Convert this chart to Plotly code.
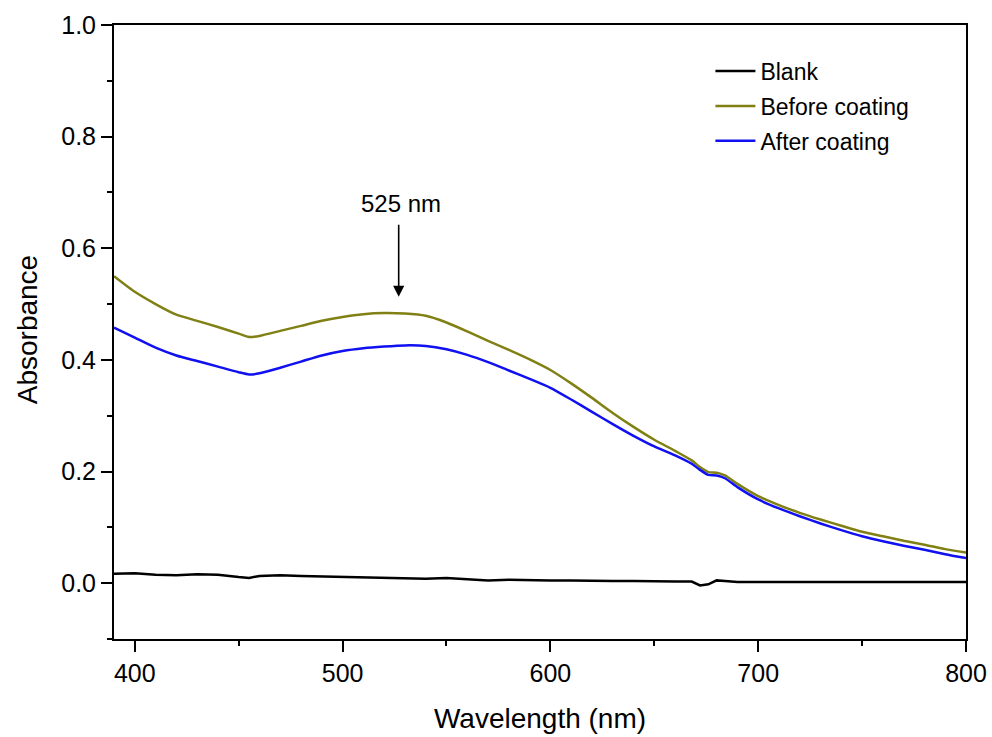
import plotly.graph_objects as go

wavelength = [390, 400, 410, 420, 430, 440, 450, 455, 460, 470, 480, 490, 500, 510, 520, 530,
              540, 550, 560, 570, 580, 590, 600, 610, 620, 630, 640, 650, 660, 668, 672, 676,
              680, 684, 690, 700, 710, 720, 730, 740, 750, 760, 770, 780, 790, 800]

blank = [0.017, 0.018, 0.015, 0.014, 0.016, 0.015, 0.011, 0.0095, 0.013, 0.014, 0.013, 0.012,
         0.012, 0.011, 0.009, 0.008, 0.008, 0.0095, 0.007, 0.005, 0.006, 0.005, 0.005, 0.005,
         0.004, 0.004, 0.004, 0.003, 0.003, 0.003, -0.004, -0.002, 0.005, 0.004, 0.002, 0.002,
         0.002, 0.002, 0.002, 0.002, 0.002, 0.002, 0.002, 0.002, 0.002, 0.002]

before_coating = [0.550, 0.522, 0.500, 0.481, 0.470, 0.459, 0.447, 0.441, 0.443, 0.452, 0.461,
                  0.470, 0.477, 0.482, 0.484, 0.483, 0.479, 0.467, 0.451, 0.434, 0.418, 0.401,
                  0.382, 0.358, 0.332, 0.305, 0.280, 0.257, 0.237, 0.220, 0.208, 0.199, 0.198,
                  0.193, 0.178, 0.156, 0.140, 0.126, 0.114, 0.103, 0.092, 0.084, 0.076, 0.069,
                  0.061, 0.055]

after_coating = [0.458, 0.440, 0.422, 0.408, 0.398, 0.388, 0.378, 0.374, 0.376, 0.386, 0.397,
                 0.408, 0.416, 0.421, 0.424, 0.426, 0.425, 0.419, 0.409, 0.396, 0.381, 0.366,
                 0.350, 0.329, 0.307, 0.285, 0.264, 0.245, 0.229, 0.214, 0.203, 0.194, 0.193,
                 0.188, 0.172, 0.150, 0.134, 0.120, 0.107, 0.095, 0.084, 0.075, 0.067, 0.060,
                 0.052, 0.045]

series_names = ["Blank", "Before coating", "After coating"]
peak_label = "525 nm"
peak_x = 527
x_ticks = [400, 500, 600, 700, 800]
y_ticks = [0.0, 0.2, 0.4, 0.6, 0.8, 1.0]
x_title = "Wavelength (nm)"
y_title = "Absorbance"

FONT = "Liberation Sans, Arial, Helvetica, sans-serif"
colors = ["#000000", "#808014", "#1010f0"]

fig = go.Figure()
for name, ys, c in zip(series_names, [blank, before_coating, after_coating], colors):
    shape = "linear" if name == "Blank" else "spline"
    fig.add_trace(go.Scatter(x=wavelength, y=ys, mode="lines", name=name, legendgroup=name,
                             line=dict(color=c, width=2.5, shape=shape, smoothing=0.6)))

axis_common = dict(showline=True, linecolor="black", linewidth=2, mirror=True,
                   ticks="outside", ticklen=11, tickwidth=2, tickcolor="black",
                   showgrid=False, zeroline=False, automargin=False,
                   ticklabeloverflow="allow",
                   tickfont=dict(family=FONT, size=25, color="black"))

fig.update_xaxes(range=[390, 800], tickvals=x_ticks, ticktext=[str(v) for v in x_ticks],
                 minor=dict(ticks="outside", ticklen=5, tickwidth=2, tickcolor="black", dtick=50,
                            tick0=400, showgrid=False),
                 ticklabelstandoff=0,
                 title=dict(text=x_title, font=dict(family=FONT, size=28, color="black"),
                            standoff=22),
                 **axis_common)
fig.update_yaxes(range=[-0.1, 1.0], tickvals=y_ticks, ticktext=[f"{v:.1f}" for v in y_ticks],
                 minor=dict(ticks="outside", ticklen=5, tickwidth=2, tickcolor="black", dtick=0.1,
                            tick0=0, showgrid=False),
                 **axis_common)

# y-axis title placed as rotated text to match the reference position
fig.add_annotation(x=-0.102, y=0.503, xref="paper", yref="paper", text=y_title, textangle=-90,
                   showarrow=False, xanchor="center", yanchor="middle",
                   font=dict(family=FONT, size=28, color="black"))

fig.add_annotation(x=peak_x, y=0.513, ax=peak_x, ay=0.645, xref="x", yref="y", axref="x", ayref="y",
                   text="", showarrow=True, arrowhead=2, arrowsize=1.4, arrowwidth=1.6,
                   arrowcolor="black")
fig.add_annotation(x=peak_x + 1, y=0.681, xref="x", yref="y", text=peak_label, showarrow=False,
                   font=dict(family=FONT, size=24, color="black"))

fig.update_layout(
    width=992, height=737,
    margin=dict(l=114, r=26, t=25, b=98, autoexpand=False),
    plot_bgcolor="white", paper_bgcolor="white",
    font=dict(family=FONT, color="black"),
    legend=dict(x=0.70, y=0.960, xanchor="left", yanchor="top", bgcolor="rgba(0,0,0,0)",
                font=dict(family=FONT, size=23, color="black"), tracegroupgap=2,
                itemwidth=40),
    showlegend=True,
)

fig.write_html("out.html", config={"displayModeBar": False},
               post_script="document.body.style.margin='0';document.body.style.overflow='hidden';")
